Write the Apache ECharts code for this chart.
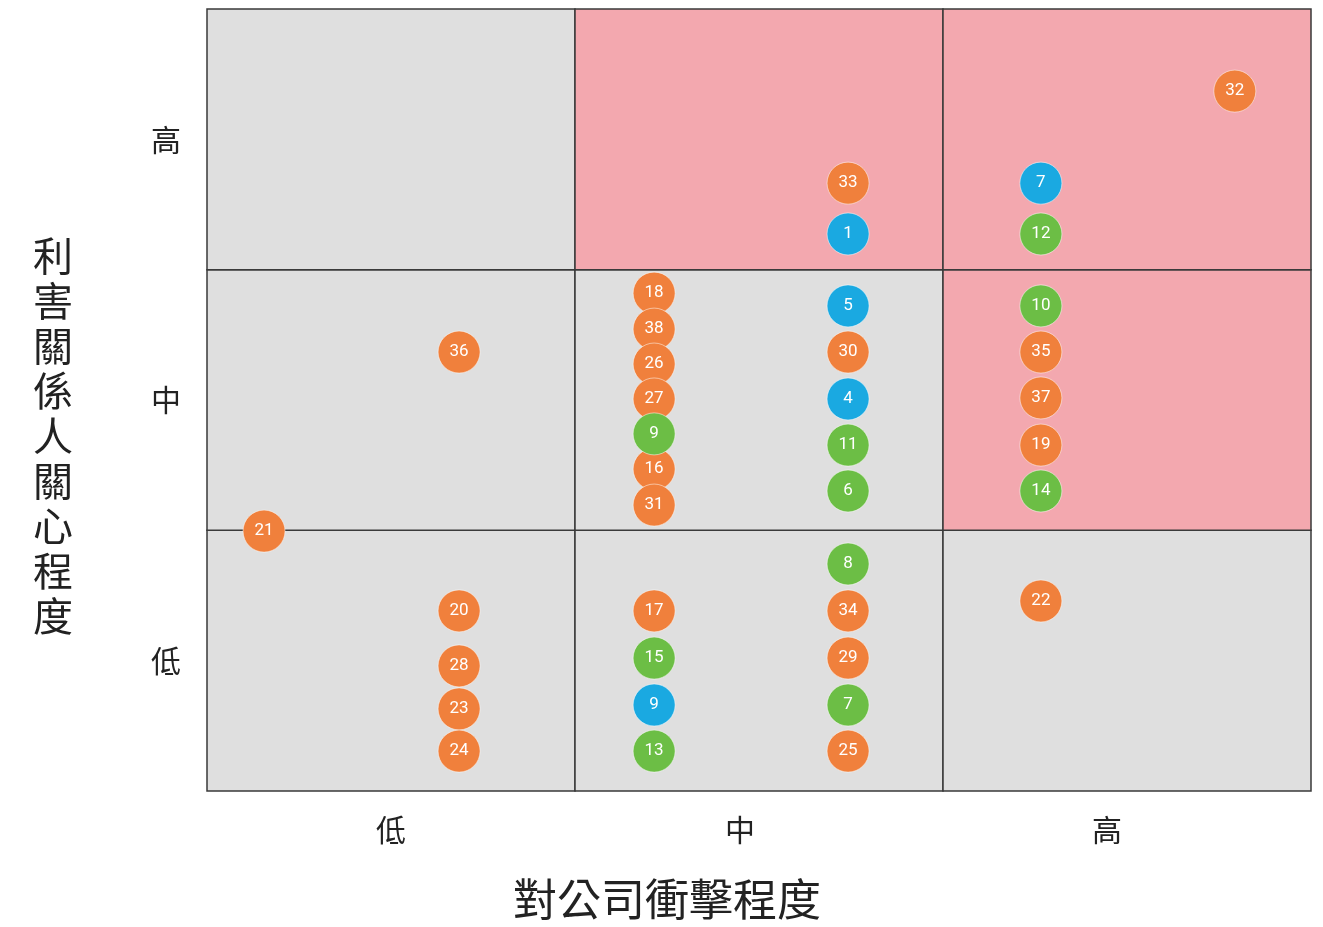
<!doctype html>
<html>
<head>
<meta charset="utf-8">
<script src="https://cdn.jsdelivr.net/npm/echarts@6/dist/echarts.min.js"></script>
<style>
  html, body { margin:0; padding:0; background:#fff; }
  #chart { width:1323px; height:927px; }
</style>
</head>
<body>
<div id="chart"></div>
<script>
// axis levels (tick labels sit in the middle of each band)
const xLevels = ['低', '中', '高'];
const yLevels = ['低', '中', '高'];
const xName = '對公司衝擊程度';
const yName = '利害關係人關心程度';

// [impact, concern, issue no.]
const orangeData = [
  [0.155, 0.997, '21'], [0.685, 1.684, '36'],
  [0.685, 0.691, '20'], [0.685, 0.480, '28'], [0.685, 0.315, '23'], [0.685, 0.153, '24'],
  [1.215, 1.910, '18'], [1.215, 1.772, '38'], [1.215, 1.638, '26'], [1.215, 1.504, '27'],
  [1.215, 1.235, '16'], [1.215, 1.097, '31'], [1.215, 0.691, '17'],
  [1.742, 2.332, '33'], [1.742, 1.684, '30'], [1.742, 0.691, '34'], [1.742, 0.510, '29'],
  [1.742, 0.153, '25'],
  [2.266, 1.684, '35'], [2.266, 1.508, '37'], [2.266, 1.327, '19'], [2.266, 0.729, '22'],
  [2.793, 2.685, '32']
];
const blueData = [
  [1.742, 2.137, '1'], [1.742, 1.861, '5'], [1.742, 1.504, '4'],
  [1.215, 0.330, '9'], [2.266, 2.332, '7']
];
const greenData = [
  [1.215, 1.370, '9'], [1.215, 0.510, '15'], [1.215, 0.153, '13'],
  [1.742, 1.327, '11'], [1.742, 1.151, '6'], [1.742, 0.871, '8'], [1.742, 0.330, '7'],
  [2.266, 2.137, '12'], [2.266, 1.861, '10'], [2.266, 1.151, '14']
];

// cells [col, row] shaded as the material zone
const hotCells = [[1, 2], [2, 2], [2, 1]];

const cells = [];
for (let c = 0; c < 3; c++) {
  for (let r = 0; r < 3; r++) {
    const hot = hotCells.some(h => h[0] === c && h[1] === r);
    cells.push([
      { xAxis: c, yAxis: r, itemStyle: { color: hot ? '#f3a8af' : '#dfdfdf', borderColor: '#3a3a3a', borderWidth: 1.5 } },
      { xAxis: c + 1, yAxis: r + 1 }
    ]);
  }
}

const bubble = (name, color, data) => ({
  name, type: 'scatter', data,
  symbolSize: 42,
  itemStyle: { color, opacity: 1, borderColor: 'rgba(255,255,255,0.5)', borderWidth: 1 },
  label: {
    show: true, position: 'inside', color: '#fff',
    fontFamily: 'Roboto', fontSize: 17,
    formatter: p => p.value[2]
  },
  z: 5
});

const xShift = [0, 38, 40];
const chart = echarts.init(document.getElementById('chart'));
chart.setOption({
  animation: false,
  grid: { left: 207, top: 9, width: 1104, height: 782 },
  title: [
    {
      text: yName.split('').join('\n'),
      left: 28, top: 228,
      textStyle: { fontFamily: 'Noto Sans CJK TC', fontSize: 40, fontWeight: 'normal', lineHeight: 45, color: '#222' }
    },
    {
      text: xName,
      left: 508, top: 872,
      textStyle: { fontFamily: 'Noto Sans CJK TC', fontSize: 44, fontWeight: 'normal', color: '#222' }
    }
  ],
  xAxis: {
    type: 'value', min: 0, max: 3, interval: 0.5,
    axisLine: { show: false }, axisTick: { show: false }, splitLine: { show: false },
    axisLabel: {
      margin: 24,
      formatter: v => {
        const i = Math.round(v - 0.5);
        return Math.abs(v - 0.5 - i) < 0.01 && i >= 0 && i < 3 ? `{c${i}|${xLevels[i]}}` : '';
      },
      rich: {
        c0: { fontFamily: 'Noto Sans CJK TC', fontSize: 30, color: '#222' },
        c1: { fontFamily: 'Noto Sans CJK TC', fontSize: 30, color: '#222', padding: [0, xShift[1], 0, 0] },
        c2: { fontFamily: 'Noto Sans CJK TC', fontSize: 30, color: '#222', padding: [0, xShift[2], 0, 0] }
      }
    }
  },
  yAxis: {
    type: 'value', min: 0, max: 3, interval: 0.5,
    axisLine: { show: false }, axisTick: { show: false }, splitLine: { show: false },
    axisLabel: {
      margin: 26,
      fontFamily: 'Noto Sans CJK TC', fontSize: 30, color: '#222',
      formatter: v => {
        const i = Math.round(v - 0.5);
        return Math.abs(v - 0.5 - i) < 0.01 && i >= 0 && i < 3 ? yLevels[i] : '';
      }
    }
  },
  series: [
    Object.assign(bubble('orange', '#f0803c', orangeData), {
      markArea: { silent: true, z: 1, data: cells }
    }),
    bubble('blue', '#1aa9e1', blueData),
    bubble('green', '#6cbe45', greenData)
  ]
});
</script>
</body>
</html>
